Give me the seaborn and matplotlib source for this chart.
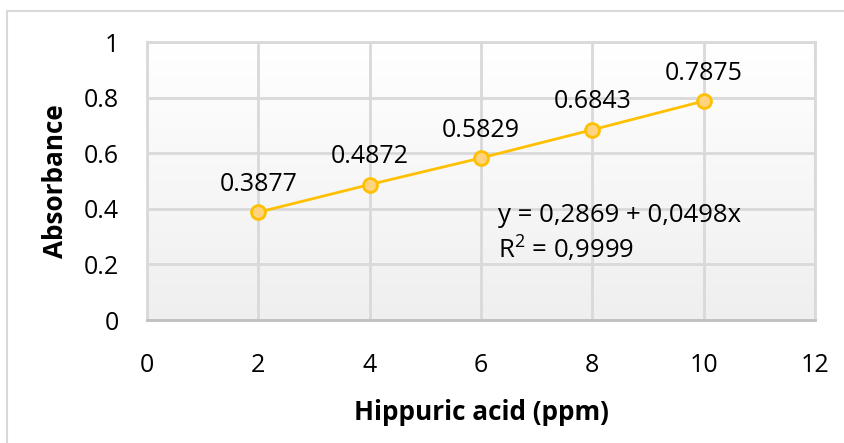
import matplotlib
matplotlib.use("Agg")
import matplotlib.pyplot as plt
import numpy as np
import pandas as pd
import seaborn as sns
from matplotlib.patches import Rectangle

# data
concentration = [2, 4, 6, 8, 10]
absorbance = [0.3877, 0.4872, 0.5829, 0.6843, 0.7875]
x_ticks = [0, 2, 4, 6, 8, 10, 12]
y_ticks = [0, 0.2, 0.4, 0.6, 0.8, 1]
y_tick_labels = ["0", "0.2", "0.4", "0.6", "0.8", "1"]
equation = "y = 0,2869 + 0,0498x"
r_squared = "R$^2$ = 0,9999"

LINE = "#FFC000"
FILL = "#FFD37F"
GRID = "#D9D9D9"
FS = 18
FS_LABEL = 18.8

sns.set_theme(style="white")
plt.rcParams["font.family"] = ["Open Sans", "DejaVu Sans"]
plt.rcParams["text.color"] = "black"
plt.rcParams["axes.labelcolor"] = "black"
plt.rcParams["xtick.color"] = "black"
plt.rcParams["ytick.color"] = "black"
plt.rcParams["mathtext.default"] = "regular"

df = pd.DataFrame({"ppm": concentration, "abs": absorbance})

fig = plt.figure(figsize=(8.45, 4.43), dpi=100)
W, H = 845, 443
ax = fig.add_axes([147 / W, 1 - 320 / H, (815 - 147) / W, (320 - 42) / H])

# outer chart border
fig.patches.append(Rectangle((7 / W, -0.05), 1.1, 1 - 11 / H + 0.05,
                             transform=fig.transFigure, fill=False,
                             edgecolor="#D9D9D9", lw=1.5))

# plot-area gradient (white at top -> light gray at bottom)
grad = np.linspace(0, 1, 256).reshape(-1, 1)
cmap = matplotlib.colors.LinearSegmentedColormap.from_list("bg", ["#FFFFFF", "#EFEFEF"])
ax.imshow(grad, cmap=cmap, aspect="auto", extent=[0, 1, 0, 1], origin="upper",
          transform=ax.transAxes, zorder=0)

sns.lineplot(data=df, x="ppm", y="abs", ax=ax, color=LINE, lw=2,
             marker="o", markersize=10, markerfacecolor=FILL,
             markeredgecolor=LINE, markeredgewidth=2, zorder=3)

for xv, yv in zip(concentration, absorbance):
    ax.annotate(f"{yv:.4f}", (xv, yv), xytext=(0, 11), textcoords="offset points",
                ha="center", va="bottom", fontsize=FS)

ax.text(6.3, 0.375, equation, fontsize=FS + 0.5, va="center", ha="left")
ax.text(6.3, 0.255, r_squared, fontsize=FS + 0.5, va="center", ha="left")

ax.set_xlim(0, 12)
ax.set_ylim(0, 1)
ax.set_xticks(x_ticks)
ax.set_yticks(y_ticks)
ax.set_yticklabels(y_tick_labels)
ax.tick_params(axis="x", length=0, pad=24, labelsize=FS)
ax.tick_params(axis="y", length=0, pad=20, labelsize=FS)
ax.grid(True, color=GRID, lw=2)
ax.set_axisbelow(True)
for side in ["top", "right", "left"]:
    ax.spines[side].set_color(GRID)
    ax.spines[side].set_linewidth(2)
ax.spines["bottom"].set_color("#BFBFBF")
ax.spines["bottom"].set_linewidth(2)

ax.set_xlabel("Hippuric acid (ppm)", fontsize=FS_LABEL, fontweight="bold", labelpad=15)
ax.set_ylabel("Absorbance", fontsize=FS_LABEL, fontweight="bold", labelpad=11)

fig.savefig("out.png", dpi=100)
